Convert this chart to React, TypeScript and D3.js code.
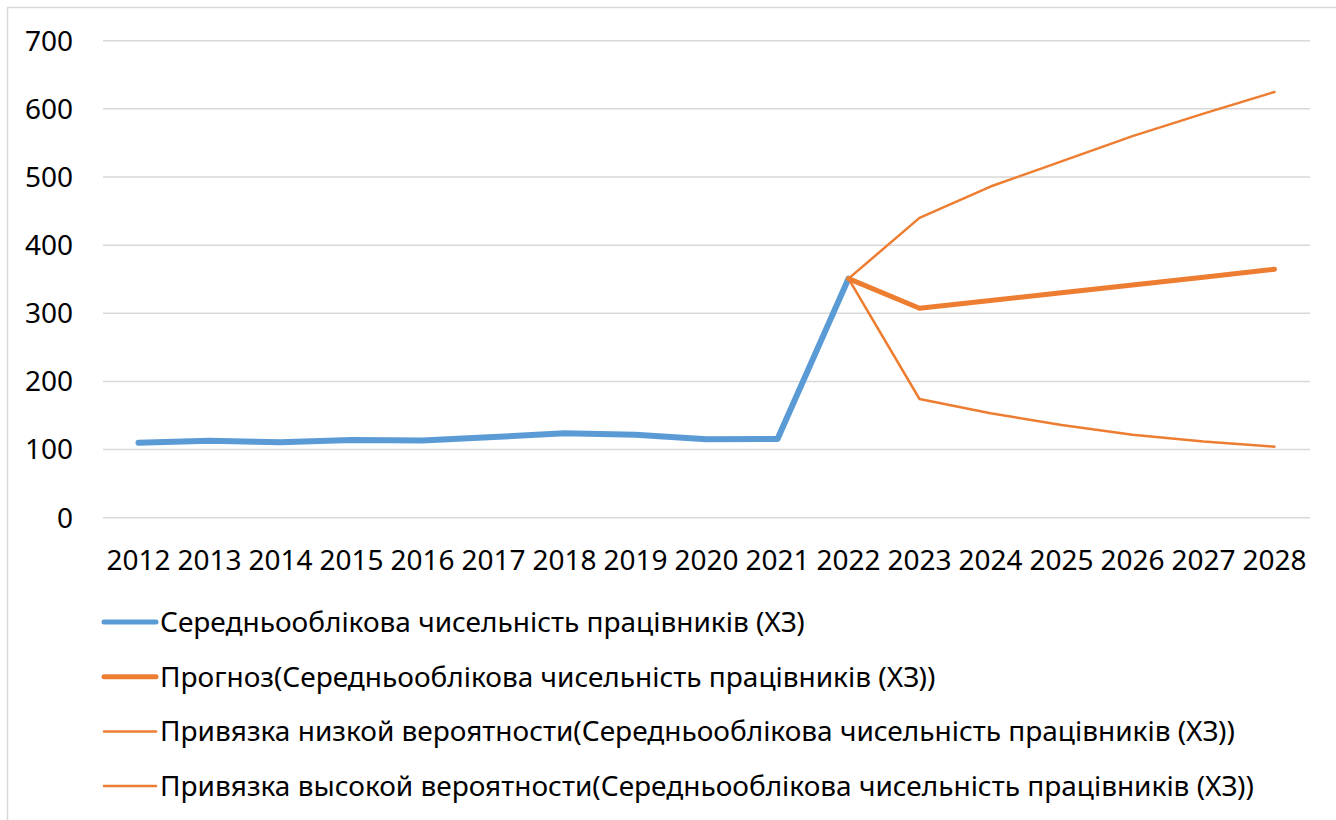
import { useEffect, useRef } from "react";
import * as d3 from "d3";

const years: string[] = [
  "2012", "2013", "2014", "2015", "2016", "2017", "2018", "2019", "2020",
  "2021", "2022", "2023", "2024", "2025", "2026", "2027", "2028",
];

// actual values 2012-2022
const actual: (number | null)[] = [
  110, 113, 110.6, 114, 113.3, 118.4, 123.8, 121.8, 115, 115.5, 350.8,
  null, null, null, null, null, null,
];

// forecast from 2022
const forecast: (number | null)[] = [
  null, null, null, null, null, null, null, null, null, null, 350.8,
  307.3, 318.7, 330.1, 341.5, 353, 364.5,
];

const lowBound: (number | null)[] = [
  null, null, null, null, null, null, null, null, null, null, 350.8,
  174.2, 153.4, 136, 121.8, 111.8, 104.2,
];

const highBound: (number | null)[] = [
  null, null, null, null, null, null, null, null, null, null, 350.8,
  440, 486, 523, 560, 593, 624.8,
];

const yTicks: number[] = [0, 100, 200, 300, 400, 500, 600, 700];

const legendLabels: string[] = [
  "Середньооблікова чисельність працівників (ХЗ)",
  "Прогноз(Середньооблікова чисельність працівників (ХЗ))",
  "Привязка низкой вероятности(Середньооблікова чисельність працівників (ХЗ))",
  "Привязка высокой вероятности(Середньооблікова чисельність працівників (ХЗ))",
];

const BLUE = "#5B9BD5";
const ORANGE = "#ED7D31";
const GRID = "#D9D9D9";
const FONT = "'Noto Sans', 'Open Sans', sans-serif";

export default function App() {
  const svgRef = useRef<SVGSVGElement>(null);

  useEffect(() => {
    const width = 1336;
    const height = 820;
    const plot = { left: 103, right: 1310, top: 40.7, bottom: 517.7 };

    const svg = d3.select(svgRef.current).attr("width", width).attr("height", height);
    svg.selectAll("*").remove();

    svg
      .append("rect")
      .attr("width", width)
      .attr("height", height)
      .attr("fill", "#fff");

    // chart frame
    svg
      .append("rect")
      .attr("x", 7.5)
      .attr("y", 7.5)
      .attr("width", width + 10)
      .attr("height", height + 10)
      .attr("fill", "none")
      .attr("stroke", GRID)
      .attr("stroke-width", 1.5);

    const x = d3.scalePoint<string>().domain(years).range([plot.left, plot.right]).padding(0.5);
    const y = d3.scaleLinear().domain([0, 700]).range([plot.bottom, plot.top]);

    // gridlines
    svg
      .append("g")
      .selectAll("line")
      .data(yTicks)
      .join("line")
      .attr("x1", plot.left)
      .attr("x2", plot.right)
      .attr("y1", (d) => y(d))
      .attr("y2", (d) => y(d))
      .attr("stroke", GRID)
      .attr("stroke-width", 1.5);

    // y labels
    svg
      .append("g")
      .selectAll("text")
      .data(yTicks)
      .join("text")
      .attr("x", 73)
      .attr("y", (d) => y(d))
      .attr("dy", "0.35em")
      .attr("text-anchor", "end")
      .attr("font-family", FONT)
      .attr("font-size", 28)
      .attr("fill", "#000")
      .text((d) => d);

    // x labels
    svg
      .append("g")
      .selectAll("text")
      .data(years)
      .join("text")
      .attr("x", (d) => x(d) || 0)
      .attr("y", 560)
      .attr("dy", "0.35em")
      .attr("text-anchor", "middle")
      .attr("font-family", FONT)
      .attr("font-size", 28)
      .attr("fill", "#000")
      .text((d) => d);

    const series = [
      { values: actual, color: BLUE, w: 6 },
      { values: lowBound, color: ORANGE, w: 2.5 },
      { values: highBound, color: ORANGE, w: 2.5 },
      { values: forecast, color: ORANGE, w: 5 },
    ];

    const line = d3
      .line<[string, number | null]>()
      .defined((d) => d[1] !== null)
      .x((d) => x(d[0]) || 0)
      .y((d) => y(d[1] as number));

    svg
      .append("g")
      .selectAll("path")
      .data(series)
      .join("path")
      .attr("d", (s) => line(years.map((yr, i) => [yr, s.values[i]])))
      .attr("fill", "none")
      .attr("stroke", (s) => s.color)
      .attr("stroke-width", (s) => s.w)
      .attr("stroke-linejoin", "round")
      .attr("stroke-linecap", "round");

    // legend
    const legendStyle = [
      { color: BLUE, w: 5 },
      { color: ORANGE, w: 5 },
      { color: ORANGE, w: 2.5 },
      { color: ORANGE, w: 2.5 },
    ];
    const lg = svg
      .append("g")
      .selectAll("g")
      .data(legendLabels)
      .join("g")
      .attr("transform", (_, i) => `translate(0,${622 + i * 54.7})`);
    lg.append("line")
      .attr("x1", 104)
      .attr("x2", 156)
      .attr("stroke", (_, i) => legendStyle[i].color)
      .attr("stroke-width", (_, i) => legendStyle[i].w)
      .attr("stroke-linecap", "round");
    lg.append("text")
      .attr("x", 160)
      .attr("dy", "0.35em")
      .attr("font-family", FONT)
      .attr("font-size", 28)
      .attr("fill", "#000")
      .text((d) => d);
  }, []);

  return (
    <svg
      ref={svgRef}
      style={{ position: "absolute", left: 0, top: 0, display: "block" }}
    ></svg>
  );
}
